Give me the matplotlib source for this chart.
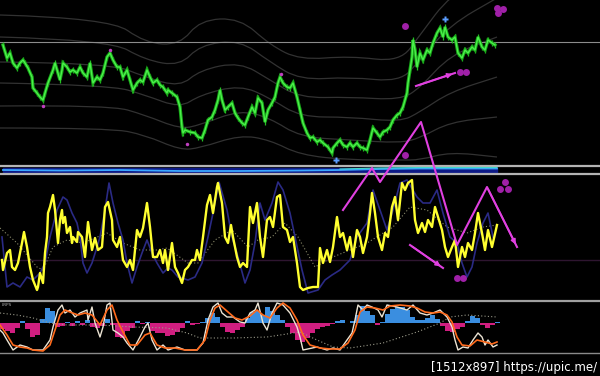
import matplotlib
matplotlib.use("Agg")
import matplotlib.pyplot as plt
import numpy as np
from matplotlib import font_manager
from matplotlib.path import Path
from matplotlib.patches import PathPatch

# ---------------- data (pane "screen levels") ----------------
price = [(3,45),(7,58),(10,53),(13,63),(17,68),(20,63),(23,60),(25,63),(28,68),(32,77),(33,88),(37,93),
         (40,97),(43,100),(45,93),(48,83),(53,70),(55,63),(58,73),(60,80),(62,70),(63,63),(67,67),(70,72),
         (73,70),(77,73),(80,67),(83,73),(87,77),(90,63),(93,83),(97,77),(100,80),(103,73),(107,57),(110,53),
         (113,60),(117,67),(120,67),(123,77),(127,70),(130,80),(133,90),(137,83),(140,80),(143,82),(147,70),
         (150,77),(153,83),(157,80),(160,85),(163,87),(167,93),(168,90),(172,93),(177,97),(180,107),(182,127),
         (183,133),(185,130),(190,132),(195,133),(198,137),(202,138),(205,130),(208,120),(212,117),(215,110),
         (218,100),(220,90),(222,100),(225,110),(228,107),(232,103),(235,113),(238,118),(242,123),(245,125),
         (248,117),(252,107),(255,113),(258,98),(262,103),(265,122),(268,110),(272,103),(275,97),(278,83),
         (280,77),(283,83),(287,87),(290,88),(293,83),(297,97),(300,110),(303,123),(307,133),(310,138),
         (313,137),(317,142),(320,140),(323,143),(328,147),(332,153),(333,148),(337,143),(340,140),(343,145),
         (347,147),(350,143),(353,147),(357,143),(360,147),(363,148),(367,150),(370,140),(373,128),(377,133),
         (380,137),(383,132),(387,130),(390,127),(393,120),(397,115),(400,113),(403,107),(407,93),(408,83),
         (410,70),(412,57),(413,40),(415,50),(417,67),(420,53),(423,60),(427,50),(430,53),(433,43),(437,33),
         (440,28),(443,37),(445,27),(448,37),(452,40),(455,37),(458,53),(462,58),(465,50),(468,53),(472,47),
         (475,50),(478,37),(482,47),(485,50),(488,40),(492,43),(495,45)]

band_x = [0, 110, 145, 180, 200, 240, 270, 300, 350, 400, 420, 450, 497]
band_1 = [15, 18, 43, 45, 20, 18, 45, 60, 56, 62, 35, -5, -30]
band_2 = [37, 40, 60, 66, 45, 40, 62, 80, 77, 82, 60, 25, -2]
band_3 = [62, 63, 77, 87, 70, 62, 80, 98, 97, 100, 88, 55, 37]
band_4 = [83, 85, 95, 108, 95, 85, 98, 117, 117, 122, 112, 92, 77]
band_5 = [106, 105, 115, 129, 125, 110, 118, 137, 140, 143, 138, 122, 117]
band_6 = [128, 128, 135, 150, 148, 135, 140, 155, 160, 160, 160, 152, 157]
price_level = 42

strip_line = [(3,170),(60,170.5),(120,170),(180,171),(240,171),(300,170.5),(340,170),(380,169),(420,168.5),(497,168.5)]

yellow = [(2,260),(3,270),(7,253),(10,250),(12,267),(15,270),(18,263),(22,243),(24,232),(27,247),(30,267),
          (33,280),(37,290),(38,287),(40,273),(43,283),(45,253),(47,237),(48,213),(50,207),(53,195),(55,210),
          (58,243),(60,220),(62,210),(63,223),(65,217),(67,233),(70,227),(72,243),(73,237),(77,242),(78,232),
          (82,237),(85,257),(88,222),(92,250),(95,238),(98,250),(102,247),(105,207),(108,202),(112,220),
          (113,240),(117,247),(120,237),(123,260),(127,267),(130,260),(133,270),(137,230),(140,237),(143,228),
          (147,203),(150,227),(153,257),(157,257),(160,250),(163,263),(165,250),(168,270),(172,243),(175,267),
          (178,273),(182,283),(185,270),(188,267),(192,260),(195,260),(197,250),(200,260),(203,237),(207,205),
          (210,195),(213,213),(217,187),(218,183),(222,203),(225,237),(228,243),(231,225),(233,237),(237,257),
          (240,267),(243,263),(247,267),(250,207),(253,223),(257,203),(260,237),(263,257),(267,220),(270,217),
          (273,227),(277,197),(280,195),(283,227),(287,230),(290,242),(293,237),(297,263),(300,287),(303,290),
          (308,288),(313,287),(318,287),(320,248),(323,263),(327,250),(330,262),(333,247),(337,217),(340,237),
          (343,233),(347,250),(350,237),(353,257),(357,230),(360,237),(363,253),(367,237),(370,213),(372,193),
          (375,213),(378,237),(382,250),(385,233),(388,237),(392,207),(395,197),(398,220),(402,183),(405,190),
          (408,183),(412,180),(415,220),(418,233),(422,223),(425,232),(428,220),(432,227),(435,207),(438,217),
          (442,230),(445,247),(448,257),(452,247),(455,240),(458,267),(462,247),(465,257),(468,243),(472,250),
          (475,233),(478,213),(482,233),(485,250),(488,230),(492,247),(497,225)]

navy = [(2,237),(7,287),(13,283),(20,287),(27,277),(33,280),(40,273),(45,263),(50,237),(57,210),(63,197),
        (67,200),(72,213),(77,223),(80,237),(83,263),(87,273),(92,263),(97,247),(100,237),(105,210),(109,183),
        (113,203),(118,223),(123,240),(127,263),(132,283),(137,267),(142,253),(147,240),(152,253),(157,263),
        (163,273),(168,268),(172,270),(178,277),(188,280),(195,277),(202,263),(208,237),(213,213),(219,182),
        (227,210),(232,237),(238,257),(245,283),(250,270),(255,243),(260,203),(265,220),(272,203),(278,182),
        (283,190),(290,213),(295,237),(302,270),(308,293),(318,290),(325,280),(332,275),(340,270),(350,260),
        (357,237),(367,223),(373,190),(380,210),(387,230),(393,210),(400,183),(407,180),(417,197),(423,203),
        (430,203),(437,190),(443,213),(450,237),(457,243),(462,263),(467,277),(472,267),(477,243),(483,223),
        (488,213),(493,237)]

osc_ma = [(0,228),(17,243),(37,267),(43,270),(53,247),(67,240),(83,243),(107,233),(123,243),(140,250),
          (157,250),(167,248),(188,263),(198,263),(215,240),(232,230),(248,247),(258,240),(272,237),(285,223),
          (298,237),(315,267),(333,257),(367,243),(393,227),(410,207),(427,210),(447,227),(467,233),(483,227),
          (497,225)]
osc_level = 260

hist_zero = 323
hist_vals = [-6,-8,-10,-5,2,-6,-14,-12,4,15,12,-4,-3,1,-3,2,-2,3,-4,-5,
             -3,4,-2,-14,-15,-8,-5,2,-1,1,-8,-10,-10,-13,-12,-9,-5,2,-2,-1,
             1,5,10,6,-4,-9,-10,-7,-4,5,11,12,8,16,12,8,3,-4,-10,-17,
             -19,-15,-10,-6,-4,-3,-1,2,3,0,2,8,17,12,8,-2,1,9,14,16,
             16,13,6,3,3,5,8,4,-3,-8,-9,-6,-4,2,7,5,-2,-5,-2,1]

stoch_w = [(0,330),(3,333),(7,340),(13,350),(20,345),(27,347),(33,350),(43,350),(50,340),(53,327),(58,310),
           (62,305),(65,313),(70,310),(75,317),(80,313),(87,310),(88,320),(92,307),(95,323),(100,337),(103,327),
           (107,305),(110,303),(113,330),(118,333),(123,337),(127,343),(133,350),(140,337),(145,327),(148,323),
           (152,340),(157,350),(163,345),(168,350),(177,347),(185,350),(197,350),(203,343),(208,320),(213,307),
           (218,303),(222,313),(227,317),(233,317),(240,322),(245,323),(250,313),(255,310),(258,303),(263,323),
           (267,330),(272,313),(277,303),(283,305),(290,313),(297,327),(300,337),(303,350),(317,347),(327,350),
           (333,348),(340,350),(347,340),(352,333),(355,320),(358,305),(363,310),(367,305),(372,307),(378,310),
           (382,317),(387,305),(397,307),(407,310),(413,305),(420,313),(427,315),(433,313),(440,310),(447,317),
           (452,327),(455,340),(458,350),(463,347),(468,348),(473,340),(478,333),(482,337),(485,345),(488,340),
           (493,347),(497,345)]
stoch_o = [(0,325),(7,335),(13,345),(20,347),(27,348),(33,350),(43,351),(50,345),(55,330),(60,315),(65,310),
           (70,312),(78,315),(85,313),(92,315),(100,325),(107,310),(112,305),(117,320),(123,332),(130,345),
           (137,345),(145,335),(150,333),(157,345),(165,348),(175,348),(185,350),(197,350),(205,340),(210,320),
           (215,308),(220,305),(228,312),(235,318),(242,320),(250,316),(257,310),(263,315),(270,318),(277,308),
           (283,303),(290,308),(297,320),(303,335),(310,345),(320,348),(330,349),(340,349),(348,343),(355,330),
           (360,312),(367,307),(375,308),(383,310),(390,306),(400,305),(410,306),(417,308),(425,312),(433,313),
           (440,312),(447,315),(452,322),(457,337),(462,345),(470,346),(477,340),(485,342),(492,344),(497,342)]
bot_ma = [(0,313),(17,315),(33,318),(50,323),(67,325),(100,325),(133,327),(167,328),(187,333),(200,338),
          (233,338),(267,337),(300,332),(317,340),(333,347),(350,348),(383,343),(417,332),(440,323),(450,317),
          (467,315),(497,317)]

# signal marks
tiny_marks = [(43,106),(110,50),(187,144),(281,74)]
blue_marks = [(336,160),(445,19)]
dots = [(405,26),(405,155),(460,72),(466,72),(497,8),(503,9),(498,13),(457,278),(463,278),(505,182),(500,189),(508,189)]
arrow_main = [(416,86),(455,73)]
zigzag = [(343,210),(372,168),(380,182),(421,122),(457,245),(487,187),(517,247)]
arrow_osc = [(410,245),(443,268)]

# ---------------- figure ----------------
W, H = 600, 376
fig = plt.figure(figsize=(6, 3.76), dpi=100, facecolor='black')

def pane(top, bottom, z=1):
    ax = fig.add_axes([0, 1 - bottom / H, 1, (bottom - top) / H], zorder=z)
    ax.set_facecolor('black')
    ax.patch.set_alpha(0 if z > 1 else 1)
    ax.set_xlim(0, W)
    ax.set_ylim(bottom, top)
    ax.axis('off')
    return ax

def xy(pairs):
    a = np.array(pairs, dtype=float)
    return a[:, 0], a[:, 1]

def smooth_curve(ax, xs, ys, **kw):
    # quadratic Bezier through midpoints -> rounded envelope lines
    xs = list(xs); ys = list(ys)
    verts = [(xs[0], ys[0])]
    codes = [Path.MOVETO]
    for i in range(1, len(xs) - 1):
        mx, my = (xs[i] + xs[i + 1]) / 2, (ys[i] + ys[i + 1]) / 2
        verts += [(xs[i], ys[i]), (mx, my)]
        codes += [Path.CURVE3, Path.CURVE3]
    verts.append((xs[-1], ys[-1]))
    codes.append(Path.LINETO)
    ax.add_patch(PathPatch(Path(verts, codes), fill=False, **kw))

# main pane
axm = pane(0, 163)
for b in (band_1, band_2, band_3, band_4, band_5, band_6):
    smooth_curve(axm, band_x, b, edgecolor='#323232', lw=0.9)
axm.axhline(price_level, color='#8c8c8c', lw=0.8)
px, py = xy(price)
axm.vlines(px, py - 3, py + 3, color='#22c022', lw=0.9)
axm.plot(px, py, color='#18a818', lw=2.4, solid_joinstyle='miter')
axm.plot(px, py, color='#4cf04c', lw=1.0)
tx, ty = xy(tiny_marks)
axm.plot(tx, ty, 'o', color='#c040c0', ms=2.5, mec='none')
bx, by = xy(blue_marks)
axm.plot(bx, by, 'P', color='#5a9cff', ms=4, mec='none', clip_on=False)

# strip pane
axs = pane(163, 176)
axs.axhline(166, color='#b4b4b4', lw=1.6)
axs.axhline(174.5, color='#b4b4b4', lw=1.6)
sx, sy = xy(strip_line)
axs.fill_between([3, 497], 167.6, 172.8, color='#0d1a86')
axs.plot(sx, sy, color='#3aa8ff', lw=1.3)
axs.plot(sx[6:], sy[6:] - 1.0, color='#40d8c8', lw=0.8)

# oscillator pane
axo = pane(176, 299)
axo.axhline(osc_level, color='#2e1530', lw=1.0)
ox, oy = xy(osc_ma)
axo.plot(ox, oy, color='#8a8a6a', lw=0.8, ls=(0, (1, 2)))
nx, ny = xy(navy)
axo.plot(nx, ny, color='#2a2a84', lw=1.2)
yx, yy = xy(yellow)
axo.plot(yx, yy, color='#ffff30', lw=1.7)

# bottom pane
axb = pane(299, 356)
axb.axhline(300.8, color='#a0a0a0', lw=1.6)
axb.axhline(353.3, color='#8a8a8a', lw=1.0)
hx = np.arange(len(hist_vals)) * 5 + 2.5
hv = np.array(hist_vals, dtype=float)
cols = ['#3a8ee0' if v > 0 else '#d01e80' for v in hv]
axb.bar(hx, -hv, bottom=hist_zero, width=5.0, color=cols, linewidth=0)
mx, my = xy(bot_ma)
axb.plot(mx, my, color='#9a9a8a', lw=0.8, ls=(0, (1, 2)))
wx, wy = xy(stoch_w)
axb.plot(wx, wy, color='#ece4d4', lw=1.0)
rx, ry = xy(stoch_o)
axb.plot(rx, ry, color='#ff6a1c', lw=1.2)
axb.text(2, 306, 'LRPS', color='#b0b0b0', fontsize=3)

# overlay: hand-drawn annotations
axa = pane(0, H, z=5)
dx, dy = xy(dots)
axa.plot(dx, dy, 'o', color='#a020a8', ms=5, mec='none')
for seg in (arrow_main, zigzag, arrow_osc):
    sxx, syy = xy(seg)
    axa.plot(sxx, syy, color='#e040e0', lw=1.5)
    axa.annotate('', xy=(sxx[-1], syy[-1]), xytext=(sxx[-2], syy[-2]),
                 arrowprops=dict(arrowstyle='-|>', color='#e040e0', lw=1.2, mutation_scale=7))

# watermark
fam = 'DejaVu Sans'
try:
    font_manager.findfont('Liberation Sans Narrow', fallback_to_default=False)
    fam = 'Liberation Sans Narrow'
except Exception:
    pass
fig.text(597 / W, 1 - 371 / H, '[1512x897] https://upic.me/', color='white',
         fontsize=10 if fam != 'DejaVu Sans' else 8.5, family=fam, ha='right', va='baseline')

fig.savefig('out.png', dpi=100, facecolor='black')
